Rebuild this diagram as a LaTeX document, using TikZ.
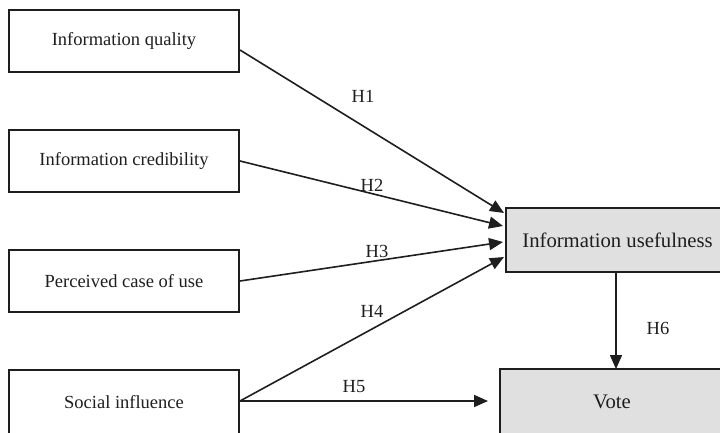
\documentclass[tikz,border=0pt]{standalone}
\usepackage{fontspec}
\setmainfont{Liberation Serif}
\usetikzlibrary{arrows.meta}
\definecolor{ink}{HTML}{1E1E1E}
\definecolor{boxgray}{HTML}{E0E0E0}
\begin{document}
\begin{tikzpicture}[x=1pt,y=-1pt,
  construct/.style={draw=ink, line width=2pt, minimum width=230pt,
    minimum height=62pt, inner sep=0pt, text=ink,
    font=\fontsize{18.5}{21}\selectfont},
  outcome/.style={construct, fill=boxgray,
    font=\fontsize{20.7}{24}\selectfont},
  link/.style={draw=ink, line width=1.6pt,
    -{Triangle[length=14pt,width=12pt]}},
  hyp/.style={inner sep=0pt, text=ink, font=\fontsize{18.5}{21}\selectfont}]
\useasboundingbox (0,0) rectangle (720,432);
\clip (0,0) rectangle (720,432);

% predictors
\node[construct] (iq) at (124,41) {Information quality};
\node[construct] (ic) at (124,161) {Information credibility};
\node[construct] (pe) at (124,281) {Perceived case of use};
\node[construct, minimum height=64pt] (si) at (124,402) {Social influence};

% outcomes
\node[outcome, minimum width=223pt, minimum height=64pt] (iu) at (617.5,240) {Information usefulness};
\node[outcome, minimum width=224pt, minimum height=66pt] (vo) at (612,402) {Vote};

% arrow tips
\coordinate (t1) at (504,213);
\coordinate (t2) at (503,226);
\coordinate (t3) at (503,242);
\coordinate (t4) at (504,257);
\coordinate (t5) at (488,401);
\coordinate (t6) at (616,369);

\draw[link] ([yshift=-9pt]iq.east) -- (t1);
\draw[link] (ic.east) -- (t2);
\draw[link] (pe.east) -- (t3);
\draw[link] ([yshift=1pt]si.east) -- (t4);
\draw[link] ([yshift=1pt]si.east) -- (t5);
\draw[link] ([xshift=-1.5pt]iu.south) -- (t6);

% hypothesis labels
\node[hyp] (h1) at (363,96) {H1};
\node[hyp] (h2) at (372,185) {H2};
\node[hyp] (h3) at (377,251) {H3};
\node[hyp] (h4) at (372,311) {H4};
\node[hyp] (h5) at (354,387) {H5};
\node[hyp] (h6) at (658,328) {H6};
\end{tikzpicture}
\end{document}
